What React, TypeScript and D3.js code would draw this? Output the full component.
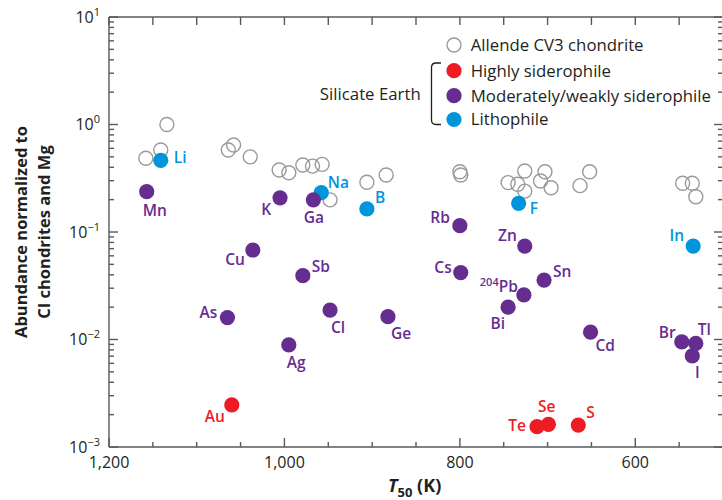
import React from "react";
import * as d3 from "d3";

// ---------- data ----------
const allendeT50 = [1158, 1141, 1134, 1064, 1058, 1039, 1006, 995, 979, 968, 957, 948, 906, 884, 800, 799, 745, 734, 726, 726, 708, 703, 696, 663, 652, 546, 535, 531];
const allendeAbund = [0.485, 0.58, 1.0, 0.58, 0.645, 0.5, 0.377, 0.356, 0.42, 0.41, 0.426, 0.199, 0.29, 0.339, 0.364, 0.339, 0.288, 0.278, 0.369, 0.24, 0.298, 0.364, 0.258, 0.27, 0.364, 0.284, 0.284, 0.213];

const elementNames = ["Li", "Na", "B", "F", "In", "Mn", "K", "Ga", "Rb", "Cu", "Sb", "Cl", "Ge", "Ag", "As", "Cs", "Zn", "Sn", "Pb", "Bi", "Cd", "Br", "Tl", "I", "Au", "Te", "Se", "S"];
const elementT50 = [1141, 958, 906, 733, 534, 1157, 1005, 967, 800, 1036, 979, 948, 882, 995, 1065, 799, 726, 704, 727, 745, 651, 547, 531, 535, 1060, 712, 699, 665];
const elementAbund = [0.464, 0.232, 0.164, 0.185, 0.074, 0.237, 0.208, 0.199, 0.1146, 0.068, 0.0392, 0.0188, 0.0163, 0.0089, 0.016, 0.0419, 0.074, 0.0357, 0.026, 0.02, 0.0117, 0.0095, 0.0092, 0.00703, 0.00246, 0.001545, 0.001626, 0.0016];
const elementGroup = ["litho", "litho", "litho", "litho", "litho", "mod", "mod", "mod", "mod", "mod", "mod", "mod", "mod", "mod", "mod", "mod", "mod", "mod", "mod", "mod", "mod", "mod", "mod", "mod", "high", "high", "high", "high"];

const legendLabels = ["Allende CV3 chondrite", "Highly siderophile", "Moderately/weakly siderophile", "Lithophile"];
const legendGroups = ["allende", "high", "mod", "litho"];
const bracketLabel = "Silicate Earth";

const xMajorTicks = [1200, 1000, 800, 600];
const xTickLabels = ["1,200", "1,000", "800", "600"];
const yDecades = [-3, -2, -1, 0, 1];
const yTickLabels = ["\u22123", "\u22122", "\u22121", "0", "1"];
const yTitleLines = ["Abundance normalized to", "CI chondrites and Mg"];

// label placement (pixel offsets from each dot)
const labelPlacement: Record<string, [number, number, string]> = {
  Li: [13, 3, "start"], Na: [6.6, -5, "start"], B: [8, -6, "start"], F: [11, 11, "start"],
  In: [-9, -5, "end"], Mn: [8, 24, "middle"], K: [-9, 17, "end"], Ga: [0.5, 23, "middle"],
  Rb: [-10, -3, "end"], Cu: [-8, 15, "end"], Sb: [9, -4, "start"], Cl: [1, 23, "start"],
  Ge: [3, 22, "start"], Ag: [-2, 23, "start"], As: [-10, 0, "end"], Cs: [-9, 0, "end"],
  Zn: [-8, -5, "end"], Sn: [9, -3, "start"], Pb: [-6, -3, "end"], Bi: [-3, 22, "end"],
  Cd: [5, 19, "start"], Br: [-6, -4, "end"], Tl: [2, -8, "start"], I: [5, 22, "middle"],
  Au: [-7, 17, "end"], Te: [-11, 4, "end"], Se: [-1.7, -12, "middle"], S: [8, -7, "start"],
};

const colors: Record<string, string> = {
  high: "#ed1c24",
  mod: "#662d91",
  litho: "#0095da",
  allende: "#9a9a9a",
};
const textColor = "#231f20";
const axisColor = "#58595b";
const FONT = "'Open Sans', 'Noto Sans', sans-serif";

export default function App() {
  const W = 722, H = 500;
  const left = 109, right = 723, top = 17, bottom = 447;
  const x = d3.scaleLinear().domain([1200, 500]).range([left, right]);
  const y = d3.scaleLog().domain([1e-3, 10]).range([bottom, top]);

  const xMinor = d3.range(500, 1201, 50);
  const yMinor: number[] = [];
  for (let e = -3; e < 1; e++) for (let m = 2; m <= 9; m++) yMinor.push(m * Math.pow(10, e));

  const rDot = 7.6;
  const rOpen = 7;

  return (
    <svg width={W} height={H} style={{ position: "absolute", left: 0, top: 0, background: "#fff" }} fontFamily={FONT}>
      {/* frame */}
      <g stroke={axisColor} strokeWidth={1.4} fill="none">
        <line x1={left} x2={right} y1={top} y2={top} />
        <line x1={left} x2={right} y1={bottom} y2={bottom} />
        <line x1={left} x2={left} y1={top} y2={bottom} />
        <line x1={right} x2={right} y1={top} y2={bottom} />
        {/* x ticks */}
        {xMinor.map((t) => {
          const major = xMajorTicks.includes(t);
          return (
            <g key={"xt" + t}>
              <line x1={x(t)} x2={x(t)} y1={bottom} y2={bottom - (major ? 9 : 5)} />
              <line x1={x(t)} x2={x(t)} y1={top} y2={top + 8} />
            </g>
          );
        })}
        {/* y ticks */}
        {yDecades.map((e) => (
          <g key={"yd" + e}>
            <line x1={left} x2={left + 9} y1={y(Math.pow(10, e))} y2={y(Math.pow(10, e))} />
            <line x1={right} x2={right - 9} y1={y(Math.pow(10, e))} y2={y(Math.pow(10, e))} />
          </g>
        ))}
        {yMinor.map((v, i) => (
          <g key={"ym" + i}>
            <line x1={left} x2={left + 5} y1={y(v)} y2={y(v)} />
            <line x1={right} x2={right - 5} y1={y(v)} y2={y(v)} />
          </g>
        ))}
      </g>

      {/* x tick labels */}
      {xMajorTicks.map((t, i) => (
        <text key={"xl" + t} x={x(t)} y={468} textAnchor="middle" fontSize={16} fill={textColor}>
          {xTickLabels[i]}
        </text>
      ))}
      {/* y tick labels */}
      {yDecades.map((e, i) => (
        <text key={"yl" + e} x={100} y={y(Math.pow(10, e)) + 5.5} textAnchor="end" fontSize={16} fill={textColor}>
          10
          <tspan fontSize={11} dy={-7}>{yTickLabels[i]}</tspan>
        </text>
      ))}

      {/* axis titles */}
      <text x={388} y={492} fontSize={18} fontWeight={700} fill={textColor}>
        <tspan fontStyle="italic">T</tspan>
        <tspan fontSize={13} dy={5}>50</tspan>
        <tspan dy={-5}> (K)</tspan>
      </text>
      {yTitleLines.map((line, i) => (
        <text
          key={"yt" + i}
          transform={`translate(${i === 0 ? 27 : 50},232) rotate(-90)`}
          textAnchor="middle"
          fontSize={16.5}
          fontWeight={700}
          fill={textColor}
        >
          {line}
        </text>
      ))}

      {/* Allende open circles */}
      {allendeT50.map((t, i) => (
        <circle key={"a" + i} cx={x(t)} cy={y(allendeAbund[i])} r={rOpen} fill="none" stroke={colors.allende} strokeWidth={1.4} />
      ))}

      {/* element dots */}
      {elementNames.map((n, i) => (
        <circle key={"e" + n} cx={x(elementT50[i])} cy={y(elementAbund[i])} r={rDot} fill={colors[elementGroup[i]]} />
      ))}
      {/* element labels */}
      {elementNames.map((n, i) => {
        const [dx, dy, anchor] = labelPlacement[n];
        const cx = x(elementT50[i]);
        const cy = y(elementAbund[i]);
        const fill = colors[elementGroup[i]];
        if (n === "Pb") {
          return (
            <text key={"l" + n} x={cx + dx} y={cy + dy} textAnchor={anchor as any} fontSize={15.5} fontWeight={600} fill={fill}>
              <tspan fontSize={11} dy={-6}>204</tspan>
              <tspan dy={6}>Pb</tspan>
            </text>
          );
        }
        return (
          <text key={"l" + n} x={cx + dx} y={cy + dy} textAnchor={anchor as any} fontSize={15.5} fontWeight={600} fill={fill}>
            {n}
          </text>
        );
      })}

      {/* legend */}
      {legendLabels.map((lab, i) => {
        const ly = [45, 70.7, 95.7, 119.5][i];
        const g = legendGroups[i];
        return (
          <g key={"lg" + i}>
            {g === "allende" ? (
              <circle cx={454} cy={ly} r={rOpen} fill="none" stroke={colors.allende} strokeWidth={1.4} />
            ) : (
              <circle cx={454} cy={ly} r={rDot} fill={colors[g]} />
            )}
            <text x={470.7} y={ly + 5.8} fontSize={16.8} fill={textColor}>
              {lab}
            </text>
          </g>
        );
      })}
      <path
        d="M441,63 H436 Q431.5,63 431.5,67.5 V120 Q431.5,124.5 436,124.5 H441"
        fill="none"
        stroke={textColor}
        strokeWidth={1.3}
      />
      <text x={420.7} y={100} textAnchor="end" fontSize={16.8} fill={textColor}>
        {bracketLabel}
      </text>
    </svg>
  );
}
